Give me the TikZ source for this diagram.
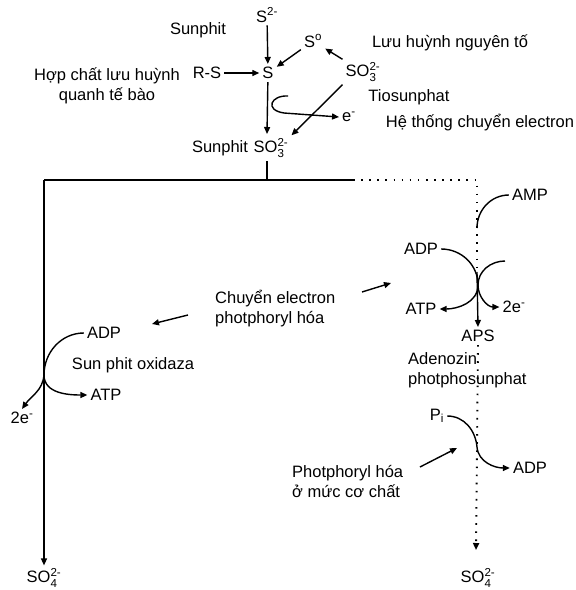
\documentclass[tikz,border=0pt]{standalone}
\usepackage{amsmath}
\usepackage{fontspec}
\setmainfont{Liberation Sans}
\usetikzlibrary{arrows.meta}
\newcommand{\ion}[3]{#1$^{\text{#3}}_{\text{#2}}$}

\begin{document}
\begin{tikzpicture}[x=1pt,y=-1pt,font=\fontsize{16.5}{20}\selectfont,
lbl/.style={inner sep=3pt,align=center},
arr/.style={-{Triangle[length=7pt,width=6pt]},line width=1.4pt},
plain/.style={line width=1.4pt},
dotline/.style={line width=1.9pt,dash pattern=on 1.6pt off 6.5pt}]
\useasboundingbox (0,0) rectangle (576,590);
% upper part: sources of sulphite
\node[lbl] (s2) at (267,15) {S$^{\text{2-}}$};
\node[lbl] (sunphitA) at (198,30) {Sunphit};
\node[lbl] (s0) at (313,41) {S$^{\text{o}}$};
\node[lbl] (luu) at (450,43) {Lưu huỳnh nguyên tố};
\node[lbl] (rs) at (207,73) {R-S};
\node[lbl] (s) at (268,73) {S};
\node[lbl] (so3a) at (363,72) {\ion{SO}{3}{2-}};
\node[lbl] (hop) at (107,86) {Hợp chất lưu huỳnh\\quanh tế bào};
\node[lbl] (tio) at (409,97) {Tiosunphat};
\node[lbl] (e1) at (349,117) {e$^{\text{-}}$};
\node[lbl] (he) at (480,123) {Hệ thống chuyển electron};
\node[lbl] (sunphitB) at (220,148) {Sunphit};
\node[lbl] (so3b) at (271,148) {\ion{SO}{3}{2-}};
\draw[arr] (s2) -- (s);
\draw[arr] (s0) -- (s);
\draw[arr] (so3a) -- (s0);
\draw[arr] (rs) -- (s);
\draw[arr] (so3a.south west) -- (so3b.north east);
\draw[arr] (s) -- (267,134);
\coordinate (c1) at (288,96);
\draw[arr] (c1) .. controls (271,95) and (264,110) .. (284,113) -- (e1.west);

% trunk
\coordinate (top) at (267,180);
\coordinate (jl) at (44,180);
\coordinate (jm) at (353,180);
\coordinate (jr) at (477,180);
\coordinate (x1) at (477,272);
\draw[plain] (267,161) -- (top);
\draw[plain] (jl) -- (jm);
\draw[dotline] (jm) -- (jr) -- (x1);

% right branch: APS pathway
\node[lbl] (amp) at (530,195) {AMP};
\node[lbl] (adp1) at (421,249) {ADP};
\node[lbl] (atp1) at (421,309) {ATP};
\node[lbl] (e2) at (514,307) {2e$^{\text{-}}$};
\node[lbl] (aps) at (478,336) {APS};
\node[lbl,align=left,anchor=west] (adeno) at (405,370) {Adenozin\\photphosunphat};
\node[lbl] (pi) at (437,416) {P$_{\text{i}}$};
\node[lbl] (adp3) at (530,468) {ADP};
\node[lbl,align=left,anchor=west] (phot) at (289,481) {Photphoryl hóa\\ở mức cơ chất};
\node[lbl] (so4r) at (478,578) {\ion{SO}{4}{2-}};
\coordinate (x2) at (478,285);
\coordinate (c2) at (505,261);
\draw[plain] (amp.west) to[out=180,in=90] (477,228);
\draw[arr] (adp1.east) to[out=0,in=90] (x2) to[out=-90,in=0] (atp1.east);
\draw[arr] (c2) to[out=180,in=90] (x2) to[out=-90,in=180] (e2.west);
\draw[arr] (x1) -- (aps.north);
\draw[dotline,-{Triangle[length=7pt,width=6pt]}] (aps.south) -- (476,550);
\draw[arr] (pi.east) to[out=0,in=95] (477,447) to[out=-85,in=180] (adp3.west);
\coordinate (a3s) at (420,467);
\coordinate (a3t) at (457,448);
\draw[arr] (a3s) -- (a3t);

% middle label
\node[lbl,align=left,anchor=west] (chuyen) at (212,309) {Chuyển electron\\photphoryl hóa};
\coordinate (a1s) at (362,292);
\coordinate (a1t) at (391,283);
\coordinate (a2s) at (188,315);
\coordinate (a2t) at (152,324);
\draw[arr] (a1s) -- (a1t);
\draw[arr] (a2s) -- (a2t);

% left branch: sulphite oxidase
\node[lbl] (adpl) at (104,333) {ADP};
\node[lbl] (oxid) at (133,365) {Sun phit oxidaza};
\node[lbl] (atpl) at (106,395) {ATP};
\node[lbl] (e3) at (22,418) {2e$^{\text{-}}$};
\node[lbl] (so4l) at (44,578) {\ion{SO}{4}{2-}};
\coordinate (xl) at (44,375);
\draw[arr] (adpl.west) to[out=180,in=90] (xl) to[out=-90,in=180] (atpl.west);
\draw[arr] (xl) to[out=-95,in=55] (e3.north);
\draw[arr] (jl) -- (so4l.north);
\end{tikzpicture}
\end{document}
